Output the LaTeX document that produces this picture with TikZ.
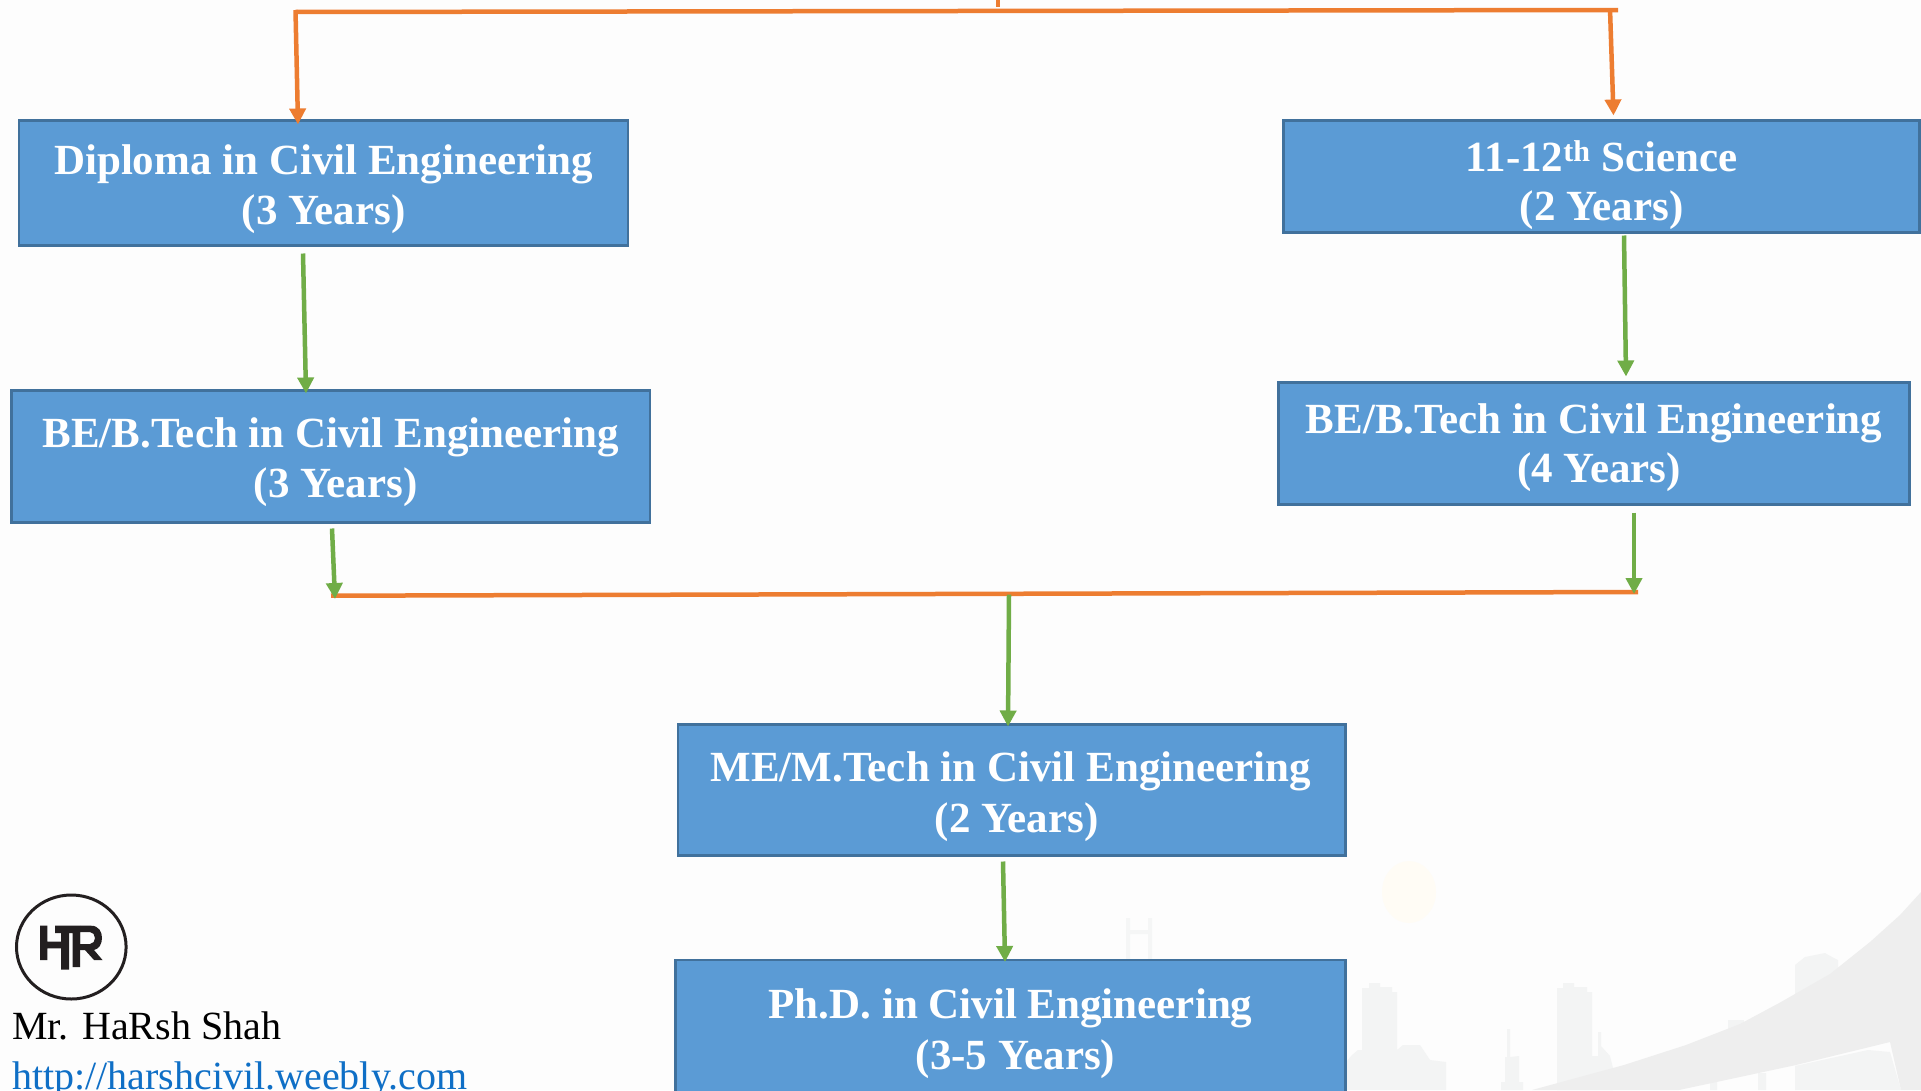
\documentclass[tikz,border=0pt]{standalone}
\usepackage{fontspec}
\setmainfont{Liberation Serif}
\usetikzlibrary{arrows.meta}
\definecolor{pagebg}{HTML}{FDFDFD}
\definecolor{boxfill}{HTML}{5B9BD5}
\definecolor{boxedge}{HTML}{41719C}
\definecolor{orangeline}{HTML}{ED7D31}
\definecolor{greenline}{HTML}{70AD47}
\definecolor{linkblue}{HTML}{0F6FC6}
\definecolor{logoink}{HTML}{231F20}
\definecolor{bandgrey}{HTML}{EEEEEE}
\definecolor{cityGrey}{HTML}{F3F4F4}
\definecolor{sunpale}{HTML}{FFFCF5}
\definecolor{towerpale}{HTML}{F5F6F6}
\newcommand\lineat[3]{\rlap{\kern#1pt\raisebox{#2pt}[0pt][0pt]{\makebox[0pt][c]{#3}}}}
\tikzset{
  x=1pt,y=-1pt,
  stagebox/.style={draw=boxedge,fill=boxfill,line width=2.5pt,rectangle,inner sep=0pt,outer sep=0pt,
    text=white,font=\fontsize{43}{50}\selectfont\bfseries},
  orangebar/.style={draw=orangeline,line width=4.5pt},
  orangearrow/.style={draw=orangeline,line width=4.5pt,-{Triangle[width=16pt,length=16pt]},orangeline},
  greenarrow/.style={draw=greenline,line width=4.5pt,-{Triangle[width=16pt,length=16pt]},greenline},
  signature/.style={anchor=base west,inner sep=0pt,font=\fontsize{40}{46}\selectfont}
}
\begin{document}
\begin{tikzpicture}
\useasboundingbox (0,0) rectangle (1921,1090);
\clip (0,0) rectangle (1921,1090);
\fill[pagebg] (0,0) rectangle (1921,1090);
% faint backdrop
\fill[sunpale] (1409,892) ellipse [x radius=27,y radius=31];
\fill[towerpale] (1126,918) rectangle (1130,960) (1148,918) rectangle (1152,960) (1126,930) rectangle (1152,934);
\fill[cityGrey] (1346,1090) -- (1346,1062) -- (1352,1055) -- (1358,1050) -- (1362,1050) -- (1362,988) -- (1369,988) -- (1369,983) -- (1380,983) -- (1380,987) -- (1392,987) -- (1392,992) -- (1397,992) -- (1397,1050) -- (1403,1045) -- (1420,1045) -- (1430,1060) -- (1446,1062) -- (1446,1090) -- cycle;
\fill[cityGrey] (1501,1090) -- (1501,1082) -- (1505,1082) -- (1505,1057) -- (1507,1057) -- (1507,1029) -- (1510,1029) -- (1510,1057) -- (1519,1056) -- (1519,1082) -- (1523,1082) -- (1523,1090) -- cycle;
\fill[cityGrey] (1557,1090) -- (1557,988) -- (1563,988) -- (1563,983) -- (1574,983) -- (1574,987) -- (1587,987) -- (1587,992) -- (1592,992) -- (1592,1056) -- (1598,1056) -- (1598,1032) -- (1601,1032) -- (1601,1046) -- (1610,1056) -- (1613,1068) -- (1613,1090) -- cycle;
\fill[cityGrey] (1795,1090) -- (1795,965) -- (1805,957) -- (1825,953) -- (1832,957) -- (1838,960) -- (1838,1000) -- (1795,1040) -- cycle;
\fill[cityGrey] (1728,1030) -- (1728,1020) -- (1744,1020) -- (1744,1030) -- cycle;
\fill[cityGrey] (1710,1090) -- (1710,1082) -- (1717,1082) -- (1717,1090) -- cycle (1758,1090) -- (1758,1073) -- (1766,1073) -- (1766,1090) -- cycle;
\fill[cityGrey] (1795,1066) -- (1868,1050) -- (1890,1052) -- (1901,1090) -- (1795,1090) -- cycle;
\fill[bandgrey] (1532,1090) -- (1624,1065) -- (1686,1045) -- (1740,1024) -- (1781,1002) -- (1830,974) -- (1870,942) -- (1900,915) -- (1921,892) -- (1921,1090) -- (1901,1090) -- (1890,1042) -- (1796,1065) -- (1679,1090) -- cycle;
% boxes
\node[stagebox,minimum width=609pt,minimum height=125pt] (dip) at (323.5,183)
  {\lineat{0}{9}{Diploma in Civil Engineering}\lineat{0}{-41}{(3 Years)}};
\node[stagebox,minimum width=638.5pt,minimum height=132pt] (beL) at (330.75,456.5)
  {\lineat{0}{9.5}{BE/B.Tech in Civil Engineering}\lineat{5}{-40.5}{(3 Years)}};
\node[stagebox,minimum width=636pt,minimum height=112pt] (sci) at (1601.5,176.5)
  {\lineat{0}{5.5}{11-12\textsuperscript{th} Science}\lineat{0}{-43.5}{(2 Years)}};
\node[stagebox,minimum width=631pt,minimum height=122pt] (beR) at (1594,443.5)
  {\lineat{0}{10}{BE/B.Tech in Civil Engineering}\lineat{5}{-39}{(4 Years)}};
\node[stagebox,minimum width=667.5pt,minimum height=131pt] (me) at (1011.75,790)
  {\lineat{-1}{8.5}{ME/M.Tech in Civil Engineering}\lineat{5}{-42}{(2 Years)}};
\node[stagebox,minimum width=670pt,minimum height=150pt] (phd) at (1010.5,1035)
  {\lineat{0}{16.5}{Ph.D. in Civil Engineering}\lineat{5}{-34}{(3-5 Years)}};
% junction points
\coordinate (topL) at (295,12);
\coordinate (topR) at (1618,10);
\coordinate (topMidA) at (998,0);
\coordinate (topMidB) at (998,7);
\coordinate (barL) at (331,595.7);
\coordinate (barR) at (1638,592);
% connectors
\draw[orangebar] (topL) -- (topR);
\draw[orangebar] (topMidA) -- (topMidB);
\draw[orangearrow] ([shift={(0.5,-2)}]topL) -- ([shift={(-25.5,4)}]dip.north);
\draw[orangearrow] ([shift={(-8,-1)}]topR) -- ([shift={(12,-5)}]sci.north);
\draw[greenarrow] ([shift={(-20.5,8)}]dip.south) -- ([shift={(-24.75,3)}]beL.north);
\draw[greenarrow] ([shift={(22.5,3)}]sci.south) -- ([shift={(32,-6)}]beR.north);
\draw[orangebar] (barL) -- (barR);
\draw[greenarrow] ([shift={(1.25,6)}]beL.south) -- ([shift={(4,3.3)}]barL);
\draw[greenarrow] ([shift={(40,8)}]beR.south) -- ([shift={(-4,2)}]barR);
\draw[greenarrow] ([shift={(678,-1)}]barL) -- ([shift={(-3.75,2)}]me.north);
\draw[greenarrow] ([shift={(-8.75,6)}]me.south) -- ([shift={(-5.5,2)}]phd.north);
% logo
\draw[logoink,line width=3pt] (71.3,947) ellipse [x radius=54.8,y radius=52];
\fill[logoink] (40,925.7) rectangle (47.3,960) (47.3,941.7) rectangle (61,948.3) (55,925.7) rectangle (80,933) (61,933) rectangle (69,969.5) (72.7,933) rectangle (80,967);
\fill[logoink,even odd rule] (80,925.7) -- (91,925.7) .. controls (99,925.7) and (102,932) .. (102,938) .. controls (102,944) and (99,949) .. (94,950) -- (102.5,960) -- (94,960) -- (85,950) -- (80,950) -- cycle
  (80,932) -- (90,932) .. controls (93,932) and (95,935) .. (95,938) .. controls (95,941) and (93,944) .. (90,944) -- (80,944) -- cycle;
% signature
\node[signature,text=black] (author) at (12,1039) {Mr. HaRsh Shah};
\node[signature,text=linkblue] (site) at (12,1089) {http://harshcivil.weebly.com};
\end{tikzpicture}
\end{document}
